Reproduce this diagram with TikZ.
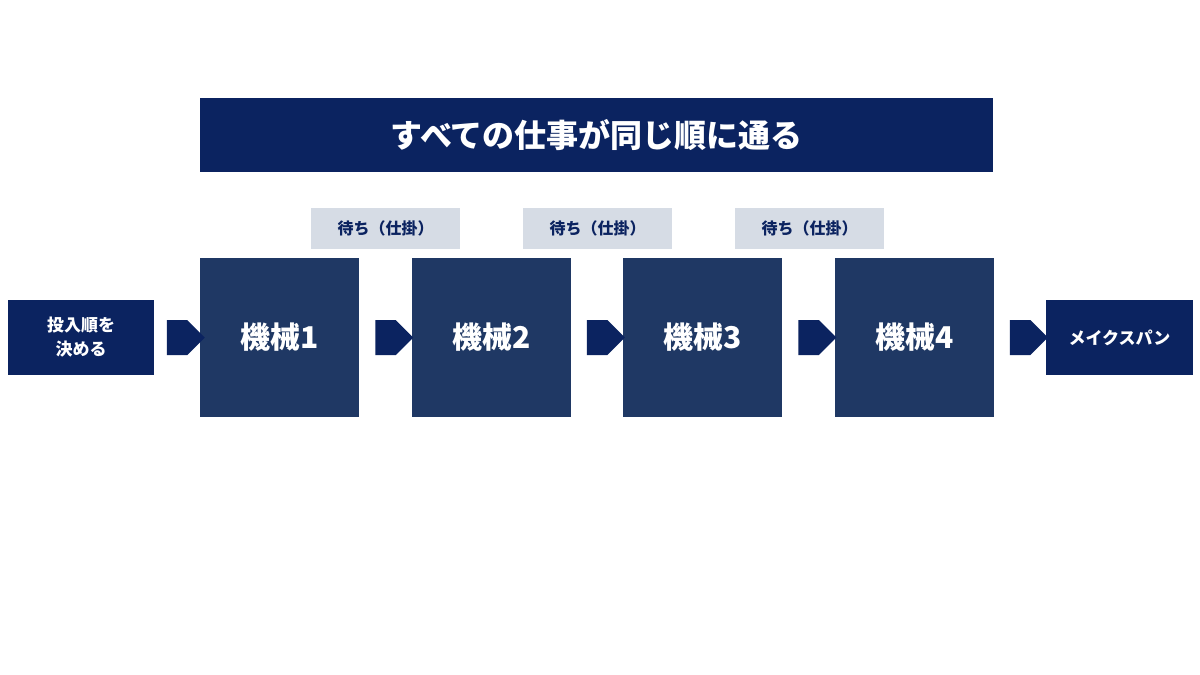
\documentclass[tikz,border=0pt]{standalone}
\usepackage{fontspec}
\setmainfont{Noto Sans CJK JP}
\usetikzlibrary{shapes.arrows,calc}
\definecolor{navy}{HTML}{0B2360}
\definecolor{mach}{HTML}{1F3864}
\definecolor{wait}{HTML}{D6DCE5}
\begin{document}
\begin{tikzpicture}[x=1pt,y=-1pt,
  box/.style={inner sep=0pt,align=center,font=\bfseries},
  arr/.style={single arrow,fill=navy,draw=none,minimum width=35pt,single arrow head extend=0pt,minimum height=38pt,inner sep=0pt,single arrow tip angle=90},
]
\useasboundingbox (0,0) rectangle (1200,675);
\fill[white] (0,0) rectangle (1200,675);
\node[box,fill=navy,minimum width=793pt,minimum height=74pt,text=white,font=\bfseries\fontsize{32}{36}\selectfont] (title) at (596.5,135) {すべての仕事が同じ順に通る};
\foreach \i/\x in {1/385.5,2/597.5,3/809.5}
  \node[box,fill=wait,minimum width=149pt,minimum height=41pt,text=navy,font=\bfseries\fontsize{16}{18}\selectfont] (w\i) at (\x,228.5) {待ち（仕掛）};
\foreach \i/\x in {1/279.5,2/491.5,3/702.5,4/914.5}
  \node[box,fill=mach,minimum width=159pt,minimum height=159pt,text=white,font=\bfseries\fontsize{30}{34}\selectfont] (m\i) at (\x,337.5) {機械\i};
\node[box,fill=navy,minimum width=146pt,minimum height=75pt,text=white,font=\bfseries\fontsize{17}{24}\selectfont] (start) at (81,337.5) {投入順を\\決める};
\node[box,fill=navy,minimum width=147pt,minimum height=75pt,text=white,font=\bfseries\fontsize{17}{24}\selectfont] (end) at (1119.5,337.5) {メイクスパン};
\node[arr] (a1) at ($(start.east)!0.5!(m1.west)$) {};
\node[arr] (a2) at ($(m1.east)!0.5!(m2.west)$) {};
\node[arr] (a3) at ($(m2.east)!0.5!(m3.west)$) {};
\node[arr] (a4) at ($(m3.east)!0.5!(m4.west)$) {};
\node[arr] (a5) at ($(m4.east)!0.5!(end.west)$) {};
\end{tikzpicture}
\end{document}
